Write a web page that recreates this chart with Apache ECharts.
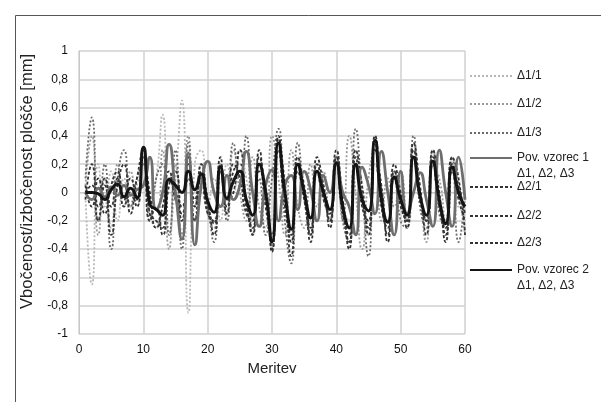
<!DOCTYPE html>
<html><head><meta charset="utf-8">
<script src="https://cdn.jsdelivr.net/npm/echarts@6/dist/echarts.min.js"></script>
<style>html,body{margin:0;padding:0;background:#fff}#c{width:601px;height:402px}</style>
</head><body><div id="c"></div>
<script>
// measurement index 1..60
const meritev = Array.from({length: 60}, (_, i) => i + 1);
const xTicks = [0, 10, 20, 30, 40, 50, 60];
const yTicks = [-1, -0.8, -0.6, -0.4, -0.2, 0, 0.2, 0.4, 0.6, 0.8, 1];

const d11 = [0,-0.65,0.2,-0.1,0.15,-0.2,0.1,-0.1,0.05,0.2,-0.1,0.1,0.55,-0.3,0.1,0.65,-0.85,0.2,0.3,-0.1,0.1,-0.2,0.2,0,0.3,0.1,-0.2,0.2,0.05,-0.2,0.3,0.1,-0.3,0.25,-0.05,-0.2,0.2,0,-0.15,0.25,-0.1,-0.2,0.3,0,-0.3,0.2,0,-0.25,0.1,0,-0.2,0.3,0,-0.2,0.3,-0.1,-0.2,0.25,-0.1,-0.1];
const d12 = [0.05,0.4,-0.3,0.1,-0.25,0.2,-0.1,0.15,-0.1,0.25,-0.15,-0.25,0.3,-0.4,0.2,-0.3,0.4,-0.1,0.2,-0.15,-0.25,0.2,-0.15,0.3,0,-0.2,0.25,-0.1,-0.25,0.4,0.1,-0.3,0.3,-0.1,-0.25,0.2,-0.1,0.15,-0.2,0.2,-0.2,0.4,0,-0.4,0.1,0.3,-0.2,0.1,-0.1,0.15,-0.2,0.35,0,-0.35,0.2,0.1,-0.2,0.2,0,-0.3];
const d13 = [0.1,0.53,-0.2,0.2,-0.4,0.1,0.3,-0.1,0.1,0.2,-0.2,0.1,0.2,-0.3,0.3,-0.4,0.35,-0.2,0.1,-0.1,-0.35,0.15,-0.2,0.35,0.1,0.4,-0.3,0.1,-0.3,0.1,0.45,-0.2,-0.5,0.35,0,-0.3,0.15,0.05,-0.2,0.25,-0.2,-0.35,0.45,0,-0.45,0.4,0,-0.2,0.15,-0.2,-0.25,0.4,-0.1,-0.25,0.3,-0.15,-0.25,0.25,-0.35,0];
const pov1 = [0,-0.05,0.03,-0.03,0.04,-0.02,0.05,-0.02,0.02,0.05,0.25,-0.12,0,0.34,0,-0.33,0.28,-0.37,0.05,0.22,0,-0.1,0.12,-0.05,0.05,0.29,0,-0.24,0.05,0.16,-0.2,0.05,0.12,-0.12,0.15,0.02,-0.2,0.12,0,0.21,0,-0.1,-0.3,0.18,0.05,-0.15,0.29,0,-0.3,0.15,-0.15,0,0.14,-0.05,-0.24,0.3,0,-0.24,0.25,-0.05];
const d21 = [0,0.05,-0.1,0.1,-0.1,0.1,-0.05,0.1,-0.05,0.3,-0.15,-0.2,-0.25,0.1,0,-0.1,0.2,-0.05,0.15,-0.1,-0.22,0.2,-0.1,0.15,0.2,-0.1,-0.25,0.25,0,-0.4,0.4,0,-0.35,0.25,0,-0.25,0.2,0,-0.2,0.25,-0.1,-0.35,0.25,-0.1,-0.2,0.4,0,-0.3,0.15,-0.05,-0.2,0.3,0,-0.2,0.25,-0.05,-0.3,0.2,0.05,-0.15];
const d22 = [0.05,-0.1,0.1,-0.15,0.05,0.15,-0.1,0,-0.1,0.25,0,-0.25,-0.1,0.15,-0.05,-0.15,0.25,-0.1,0.1,-0.15,-0.2,0.15,-0.15,0.2,0.1,-0.15,-0.2,0.3,-0.1,-0.3,0.3,-0.1,-0.3,0.2,0.05,-0.3,0.15,-0.05,-0.15,0.2,-0.15,-0.3,0.2,-0.05,-0.25,0.35,-0.1,-0.25,0.1,-0.1,-0.2,0.25,-0.05,-0.2,0.2,-0.1,-0.25,0.15,-0.05,-0.2];
const d23 = [-0.05,0.2,-0.2,0.05,-0.3,0.05,0.2,-0.15,0.1,0.3,-0.2,-0.1,-0.3,0.05,0.15,-0.2,0.1,-0.2,0.2,-0.05,-0.3,0.25,-0.05,0,0.3,-0.05,-0.3,0.15,0.05,-0.42,0.38,0.05,-0.45,0.15,-0.05,-0.35,0.25,0.05,-0.25,0.3,-0.05,-0.4,0.3,0.05,-0.3,0.3,0.05,-0.35,0.2,0,-0.25,0.35,0.05,-0.3,0.3,0,-0.35,0.25,0.1,-0.3];
const pov2 = [0,0,-0.01,-0.05,0.02,0.06,-0.03,0.03,-0.04,0.32,-0.08,-0.12,-0.16,0.09,0.05,0,0.15,0.02,0.13,-0.06,-0.14,0.18,-0.04,0.08,0.15,-0.05,-0.16,0.2,0,-0.35,0.35,0,-0.26,0.2,0,-0.18,0.15,0,-0.12,0.21,-0.1,-0.25,0.2,-0.05,-0.13,0.37,-0.05,-0.21,0.11,-0.05,-0.16,0.25,-0.02,-0.16,0.22,-0.05,-0.22,0.18,0,-0.1];

const names = ['Δ1/1','Δ1/2','Δ1/3','Pov. vzorec 1\nΔ1, Δ2, Δ3','Δ2/1','Δ2/2','Δ2/3','Pov. vzorec 2\nΔ1, Δ2, Δ3'];
const values = [d11, d12, d13, pov1, d21, d22, d23, pov2];
const styles = [
  {color:'#b8b8b8', width:1.8, type:[2,2]},
  {color:'#9a9a9a', width:1.8, type:[2,2]},
  {color:'#6a6a6a', width:1.8, type:[2,2]},
  {color:'#6e6e6e', width:2.8, type:'solid'},
  {color:'#333333', width:1.8, type:[3,2]},
  {color:'#333333', width:1.8, type:[3,2]},
  {color:'#333333', width:1.8, type:[3,2]},
  {color:'#141414', width:3, type:'solid'}
];
const legendTops = [68, 96, 125, 134, 179, 208, 235, 246];
const drawOrder = [0,1,2,4,5,6,3,7];

const series = drawOrder.map(i => ({
  name: names[i], type: 'line', smooth: 0.6, symbol: 'none',
  data: meritev.map((t, k) => [t, values[i][k]]),
  lineStyle: {color: styles[i].color, width: styles[i].width, type: styles[i].type},
  itemStyle: {color: styles[i].color},
  z: (i === 3 || i === 7) ? 3 : 2
}));

const legends = names.map((n, i) => ({
  data: [n], left: 469, top: legendTops[i], orient: 'vertical',
  itemWidth: 42, itemHeight: 14, itemGap: 0, padding: 0,
  itemStyle: {opacity: 0},
  formatter: name => name.indexOf('\n') >= 0 ? ' \n' + name : name,
  textStyle: {fontFamily: 'Liberation Sans', fontSize: 12, color: '#222', lineHeight: 16},
  selectedMode: false
}));

const chart = echarts.init(document.getElementById('c'), null, {renderer: 'canvas'});
chart.setOption({
  animation: false,
  backgroundColor: '#fff',
  graphic: [{type: 'rect', shape: {x: 15.5, y: 15.5, width: 600, height: 400},
    style: {fill: 'none', stroke: '#555', lineWidth: 1}, silent: true}],
  legend: legends,
  grid: {left: 79, right: 136, top: 51, bottom: 68},
  xAxis: {
    type: 'value', min: xTicks[0], max: xTicks[xTicks.length - 1], interval: 10,
    name: 'Meritev', nameLocation: 'middle', nameGap: 23,
    nameTextStyle: {fontFamily: 'Liberation Sans', fontSize: 15, color: '#222'},
    axisLine: {show: true, lineStyle: {color: '#c8c8c8'}},
    axisTick: {show: false},
    axisLabel: {margin: 10, fontFamily: 'Liberation Sans', fontSize: 12, color: '#111'},
    splitLine: {show: true, lineStyle: {color: '#d0d0d0', width: 1.5}}
  },
  yAxis: {
    type: 'value', min: yTicks[0], max: yTicks[yTicks.length - 1], interval: 0.2,
    name: 'Vbočenost/izbočenost plošče [mm]', nameLocation: 'middle', nameGap: 38,
    nameTextStyle: {fontFamily: 'Liberation Sans', fontSize: 16.5, color: '#222', padding: [0, 0, 0, 22]},
    axisLine: {show: true, lineStyle: {color: '#c8c8c8'}},
    axisTick: {show: false},
    axisLabel: {margin: 11, fontFamily: 'Liberation Sans', fontSize: 12, color: '#111',
      formatter: v => String(Math.round(v * 10) / 10).replace('.', ',')},
    splitLine: {show: true, lineStyle: {color: '#d0d0d0', width: 1.5}}
  },
  series: series
});
</script></body></html>
